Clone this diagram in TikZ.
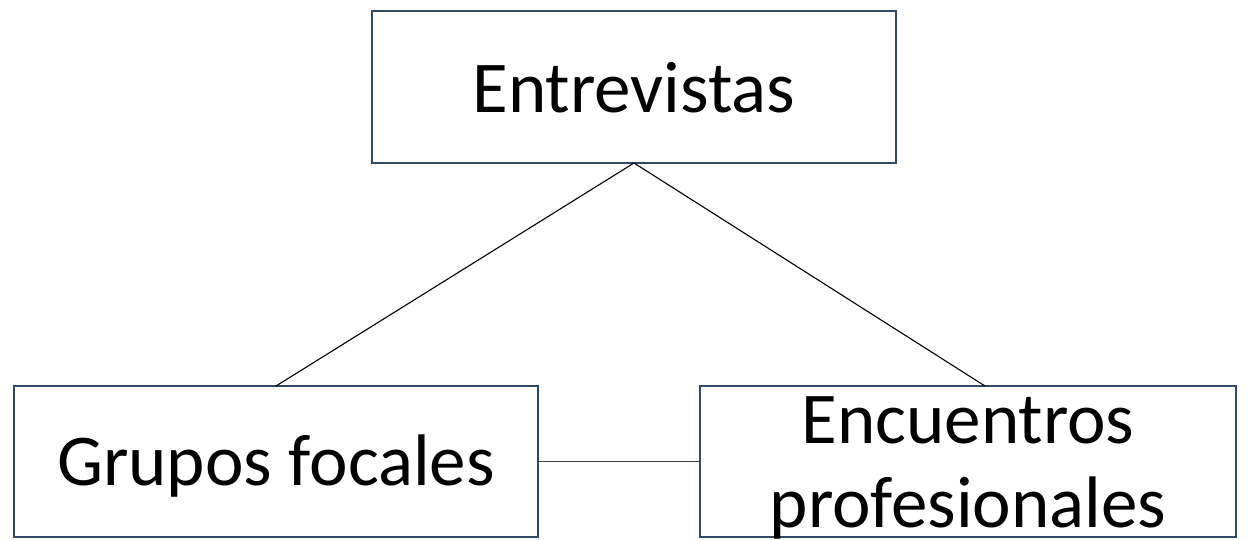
\documentclass[tikz,border=0pt]{standalone}
\usepackage{fontspec}
\setmainfont{Carlito}
\definecolor{boxblue}{RGB}{46,74,102}
\definecolor{linkgray}{RGB}{64,64,64}
\tikzset{
  boxnode/.style={draw=boxblue, line width=2.4pt, rectangle, inner sep=0pt, outer sep=0pt, fill=none},
  labeltext/.style={inner sep=0pt, outer sep=0pt, anchor=base, align=center, font=\fontsize{73}{84}\selectfont},
  link/.style={draw=black, line width=1.1pt},
  hlink/.style={draw=linkgray, line width=1.6pt}
}
\begin{document}
\begin{tikzpicture}[x=1pt,y=-1pt]
\useasboundingbox (0,0) rectangle (1250,539);
\fill[white] (0,0) rectangle (1250,539);
\node[boxnode, minimum width=524pt, minimum height=152pt] (top) at (634,87) {};
\node[boxnode, minimum width=524pt, minimum height=151pt] (left) at (276,461.5) {};
\node[boxnode, minimum width=536pt, minimum height=151pt] (right) at (968,461.5) {};
\coordinate (rightin) at (985,386);
\draw[link] (top.south) -- (left.north);
\draw[link] (top.south) -- (rightin);
\draw[hlink] (left.east) -- (right.west);
\node[labeltext] (t1) at (634,112) {Entrevistas};
\node[labeltext] (t2) at (276,485) {Grupos focales};
\node[labeltext, anchor=base] (t3) at (968,443) {Encuentros};
\node[labeltext, anchor=base] (t4) at (968,527) {profesionales};
\end{tikzpicture}
\end{document}
